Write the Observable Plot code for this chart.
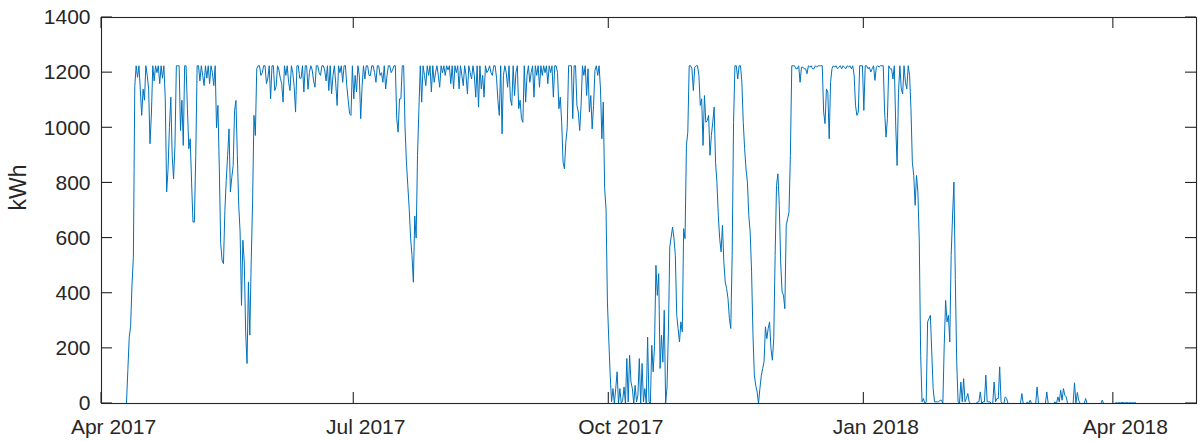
<!DOCTYPE html>
<html><head><meta charset="utf-8">
<script src="https://cdn.jsdelivr.net/npm/d3@7"></script>
<script src="https://cdn.jsdelivr.net/npm/@observablehq/plot@0.6"></script>
<style>body{margin:0;background:#fff}</style>
</head><body><div id="chart"></div>
<script>
// Energy readings (kWh) every 12 hours, first reading at startDate 00:00 UTC
const startDate = "2017-04-10";
const stepHours = 12;
const kwh = [
  0,120, 240,280, 430,530, 1150,1225, 1183,1225, 1140,1045, 1140,1100, 1225,1190, 1140,942, 1050,1225,
  1170,1225, 1200,1225, 1160,1225, 1180,1225, 1105,767, 850,1000, 1111,900, 815,936, 1225,1225, 1225,990,
  1100,936, 1225,1225, 1069,924, 960,800, 658,658, 900,1225, 1225,1170, 1225,1190, 1153,1225, 1180,1225,
  1160,1225, 1200,1153, 1225,1000, 1081,851, 580,520, 507,700, 809,900, 996,767, 820,863, 1063,1099,
  900,719, 622,356, 592,513, 260,145, 441,248, 513,731, 1045,972, 1214,1225, 1225,1190, 1200,1225,
  1225,1160, 1180,1225, 1105,1225, 1225,1135, 1150,1225, 1210,1180, 1160,1093, 1225,1190, 1225,1165, 1135,1225,
  1200,1150, 1057,1225, 1225,1180, 1180,1225, 1130,1225, 1225,1140, 1200,1225, 1210,1170, 1147,1225, 1225,1200,
  1190,1225, 1225,1210, 1170,1225, 1135,1225, 1123,1190, 1225,1160, 1081,1225, 1200,1225, 1165,1225, 1225,1150,
  1100,1051, 1045,1225, 1105,1190, 1130,1225, 1190,1033, 1150,1225, 1177,1225, 1225,1190, 1190,1225, 1225,1200,
  1165,1225, 1225,1190, 1200,1165, 1225,1141, 1190,1225, 1225,1200, 1210,1225, 1225,1033, 984,1105, 1105,1225,
  1225,1000, 875,790, 706,600, 537,440, 680,600, 900,1069, 1225,1093, 1225,1190, 1153,1225, 1190,1225,
  1130,1225, 1165,1200, 1225,1190, 1147,1225, 1200,1225, 1190,1225, 1210,1225, 1160,1225, 1141,1225, 1200,1225,
  1141,1225, 1190,1153, 1225,1190, 1123,1225, 1200,1177, 1225,1190, 1111,1225, 1075,1225, 1141,1190, 1111,1225,
  1200,1208, 1225,1200, 1190,1225, 1225,1180, 1099,1045, 1225,978, 1190,1225, 1200,1147, 1225,1105, 1081,1225,
  1117,1200, 1225,1069, 1100,1033, 1020,1225, 1093,1190, 1225,1165, 1200,1225, 1111,1225, 1190,1225, 1147,1225,
  1190,1225, 1200,1225, 1160,1225, 1200,1225, 1111,1225, 1225,1200, 1069,1111, 1020,875, 851,948, 1000,1225,
  1225,1225, 1033,1225, 1225,1081, 1057,990, 1081,1225, 1190,1225, 1117,1214, 1057,1117, 996,1081, 1208,1225,
  1190,1225, 1141,960, 1093,779, 706,368, 230,103, 6,54, 0,54, 115,0, 54,0, 12,60,
  0,163, 6,175, 78,54, 0,66, 6,30, 163,0, 145,6, 54,0, 241,6, 0,211,
  115,211, 501,392, 471,127, 248,150, 338,0, 60,260, 568,604, 640,600, 537,320, 272,223,
  296,260, 634,598, 936,984, 1225,1225, 1214,1135, 1220,1225, 1225,1190, 1081,1105, 936,1117, 1020,1026,
  1045,900, 972,1020, 1075,875, 803,682, 598,550, 646,513, 441,417, 380,308, 272,537, 1020,1225,
  1225,1177, 1225,1225, 1165,1020, 924,851, 803,682, 622,480, 250,103, 66,42, 0,54, 100,127,
  151,278, 235,272, 296,199, 157,235, 537,791, 833,719, 513,405, 393,344, 646,670, 694,900,
  1225,1225, 1225,1214, 1214,1225, 1165,1220, 1220,1214, 1214,1196, 1225,1220, 1225,1214, 1214,1225, 1220,1225,
  1225,1225, 1225,1057, 1015,1141, 1129,960, 1165,1214, 1225,1220, 1225,1214, 1220,1225, 1214,1225, 1220,1214,
  1225,1220, 1225,1214, 1225,1190, 1081,1045, 1057,1225, 1225,1225, 1063,1225, 1225,1214, 1220,1202, 1214,1225,
  1172,1220, 1225,1220, 1225,1225, 1225,1057, 966,1033, 1225,1214, 1214,1177, 1225,1008, 863,1129, 1225,1141,
  1123,1225, 1165,1141, 1225,1190, 1069,875, 827,719, 827,767, 586,175, 6,18, 0,6, 296,308,
  320,187, 54,6, 6,6, 6,12, 12,0, 211,374, 296,320, 223,537, 680,803, 450,150,
  6,0, 78,6, 90,6, 18,36, 6,0, 0,0, 0,0, 6,6, 42,0, 6,6,
  103,6, 6,6, 0,0, 78,6, 18,18, 133,6, 0,0, 24,18, 0,0, 0,0,
  0,0, 0,0, 0,0, 36,0, 0,0, 6,0, 12,0, 0,0, 0,60, 0,0,
  0,0, 0,0, 42,0, 0,0, 0,0, 6,0, 24,6, 48,12, 54,30, 24,0,
  0,0, 0,0, 75,0, 40,12, 0,0, 0,0, 18,0, 0,0, 0,0, 0,0,
  0,0, 0,0, 12,0, 0,0, 0,0, 0,0, 0,0, 3,2, 3,2, 4,3,
  2,3, 3,2, 3,2, 3,2, 3
];
const xTickDates = ["2017-04-01", "2017-07-01", "2017-10-01", "2018-01-01", "2018-04-01"];
const yTicks = [0, 200, 400, 600, 800, 1000, 1200, 1400];
const xDomain = ["2017-04-01", "2018-05-01"];
const yDomain = [0, 1400];
const yLabel = "kWh";

const utc = s => new Date(s + "T00:00:00Z");
const t0 = utc(startDate);
const data = kwh.map((v, i) => ({date: new Date(t0.getTime() + i * stepHours * 36e5), kwh: v}));
const xt = xTickDates.map(utc);

const W = 1198, H = 441, mL = 101, mR = 2, mT = 17, mB = 38, tk = 11;
const ink = "#262626";

const chart = Plot.plot({
  width: W, height: H,
  marginLeft: mL, marginRight: mR, marginTop: mT, marginBottom: mB,
  style: {fontFamily: "'Liberation Sans', Arial, Helvetica, sans-serif", fontSize: "21px", color: ink, background: "#fff"},
  x: {type: "utc", domain: xDomain.map(utc), label: null},
  y: {domain: yDomain, label: null},
  marks: [
    Plot.line(data, {x: "date", y: "kwh", stroke: "#0072BD", strokeWidth: 1}),
    Plot.frame({stroke: ink, strokeWidth: 1.1}),
    Plot.axisY({ticks: yTicks, tickSize: 0, tickPadding: 11, tickFormat: d3.format("d"), label: null, fontSize: 21, fill: ink}),
    Plot.axisX({ticks: xt, tickSize: 0, tickPadding: 16, tickFormat: d3.utcFormat("%b %Y"), label: null, fontSize: 21, fill: ink, dx: 12}),
    Plot.text([yLabel], {frameAnchor: "left", rotate: -90, dx: -83, fontSize: 23, fill: ink})
  ]
});

// inward box ticks on all four sides, positioned through Plot's own scales
const sx = chart.scale("x"), sy = chart.scale("y");
const x0 = sx.apply(xDomain.map(utc)[0]), x1 = sx.apply(xDomain.map(utc)[1]);
const y0 = sy.apply(yDomain[0]), y1 = sy.apply(yDomain[1]);
const g = d3.select(chart).append("g").attr("stroke", ink).attr("stroke-width", 1.1);
for (const v of yTicks) {
  const y = sy.apply(v);
  g.append("line").attr("x1", x0).attr("x2", x0 + tk).attr("y1", y).attr("y2", y);
  g.append("line").attr("x1", x1).attr("x2", x1 - tk).attr("y1", y).attr("y2", y);
}
for (const d of xt) {
  const x = sx.apply(d);
  g.append("line").attr("x1", x).attr("x2", x).attr("y1", y0).attr("y2", y0 - tk);
  g.append("line").attr("x1", x).attr("x2", x).attr("y1", y1).attr("y2", y1 + tk);
}
document.getElementById("chart").appendChild(chart);
</script>
</body></html>
